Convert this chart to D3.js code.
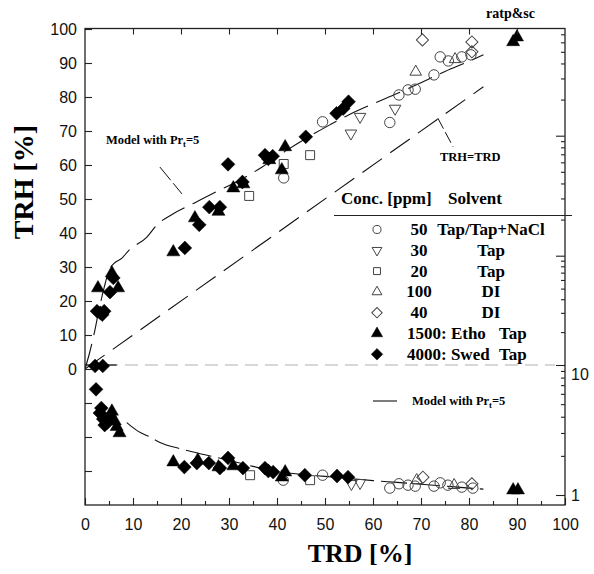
<!DOCTYPE html>
<html><head><meta charset="utf-8">
<script src="https://cdn.jsdelivr.net/npm/d3@7"></script>
<style>
body{margin:0;background:#fff;}
svg{display:block;}
</style></head><body>
<svg id="chart" width="594" height="574"></svg>
<script>
// ---------------- DATA ----------------
// Upper panel: [TRD %, TRH %]; lower panel: [TRD %, value on right log axis]
const circ50Up   = [[41.4,56.2],[49.5,72.7],[63.5,72.5],[65.4,80.6],[67.3,82.1],[68.8,82.3],[72.7,86.5],[74,91.8],[75.7,90.6],[78.5,91.8],[80.4,92.4]];
const circ50Low  = [[41.3,1.3],[49.5,1.42],[63.5,1.13],[65.4,1.22],[67.3,1.19],[68.8,1.17],[72.7,1.17],[74,1.24],[75.6,1.19],[78.5,1.15],[80.8,1.13]];
const dtri30Up   = [[55.4,69.3],[57.3,74.2],[64.6,76.6]];
const dtri30Low  = [[55.5,1.22],[57.3,1.24]];
const sq20Up     = [[34.2,50.9],[41.4,60.3],[46.9,62.9]];
const sq20Low    = [[34.4,1.42],[46.9,1.3]];
const tri100Up   = [[68.9,87.4],[77.1,91.1]];
const tri100Low  = [[69.1,1.3],[76.9,1.19]];
const dia40Up    = [[70.3,96.8],[80.6,96.2],[80.6,93.3]];
const dia40Low   = [[70.4,1.37],[80.6,1.22]];
const tri1500Up  = [[2.7,23.8],[6.9,23.8],[5.6,28.2],[18.4,34.4],[22.9,44.4],[27.8,46.3],[30.9,53.2],[33,54.4],[38.4,61.5],[41.7,65.3],[41,58.5],[89.2,96.2],[90,97.6]];
const tri1500Low = [[5.6,4.4],[6.2,3.7],[6.6,3.35],[7.2,3.0],[18.4,1.79],[23.5,1.85],[27.8,1.64],[30.9,1.67],[41.7,1.5],[41,1.37],[89.2,1.09],[90.2,1.09]];
const dia4000Up  = [[2.1,0.9],[3.7,0.9],[2.5,17],[3.2,16.5],[4,17],[3.6,16],[5.2,22.6],[5.9,26.8],[20.8,35.6],[23.8,42.4],[25.9,47.6],[28.1,47.6],[29.8,60.2],[32.8,55],[37.5,62.9],[39.1,62.6],[38.2,61.8],[46,68.3],[52.4,75.2],[53.8,76.6],[54.9,78.6]];
const dia4000Low = [[2.3,6.5],[3.4,4.66],[3.1,4.27],[3.8,3.84],[4.1,3.45],[5.1,3.98],[4.6,3.6],[20.7,1.64],[23.3,1.76],[25.8,1.76],[28.1,1.61],[29.8,1.93],[32.9,1.61],[37.5,1.61],[38.2,1.53],[39.2,1.5],[45.8,1.42],[52.5,1.4],[54.8,1.37]];

const upperModel    = [[0,0],[1,5],[2,11],[3,18],[4,24],[5,29],[6,31],[7.7,32.6],[9,34.7],[12.9,38.8],[15,42.4],[18.3,45.6],[23,49],[27.7,52.4],[32.3,55.6],[37,59.5],[42,64.3],[46,67.8],[51,71.8],[55,74.8],[60,78],[65,81],[70,84.2],[75,87.5],[80,90.5],[83,92.4]];
const identityLine  = [[0,0],[83,83]];
const lowerModelCap = [[0,10],[6.6,10]];
const lowerModel    = [[8.7,3.6],[11,3.1],[13.5,2.8],[15.5,2.55],[20,2.26],[25,2.04],[30,1.85],[35,1.66],[40,1.52],[45,1.44],[50,1.39],[55,1.34],[60,1.29],[65,1.25],[70,1.21],[75,1.17],[80,1.13],[83,1.11]];
const modelLeader   = [[15.6,59.4],[20.2,51.5]];
const trdLeader     = [[73.5,73.8],[76.7,65.3]];

const xTicks      = [0,10,20,30,40,50,60,70,80,90,100];
const xMinorTicks = [5,15,25,35,45,55,65,75,85,95];
const yTicks      = [-30,-20,-10,0,10,20,30,40,50,60,70,80,90,100];
const yRightLabels = [1,10];
const legendConc    = ["50","30","20","100","40","1500: Etho","4000: Swed"];
const legendSolvent = ["Tap/Tap+NaCl","Tap","Tap","DI","DI","Tap","Tap"];

// ---------------- SCALES ----------------
const svg = d3.select("#chart");
const L = 85, R = 565, T = 28.5, B = 505;
const x  = d3.scaleLinear().domain([0,100]).range([L,R]);
const yL = d3.scaleLinear().domain([-40,100]).range([B,29]);
const yR = d3.scaleLog().domain([1,10,100,1000,10000]).range([495,365,255.7,135.7,15.7]);

const serif = '"Liberation Serif","Times New Roman",serif';
const sans  = '"Liberation Sans",Arial,sans-serif';

svg.append("defs").append("clipPath").attr("id","plot")
  .append("rect").attr("x",L).attr("y",T).attr("width",R-L).attr("height",B-T);

// grey dashed separator at 10 on right axis
svg.append("line").attr("x1",L).attr("x2",R-10).attr("y1",yR(10)).attr("y2",yR(10))
  .attr("stroke","#b0b0b0").attr("stroke-width",1.2).attr("stroke-dasharray","13,7");

// ---------------- LINES ----------------
const g = svg.append("g").attr("clip-path","url(#plot)");
const lineU = d3.line().x(d=>x(d[0])).y(d=>yL(d[1])).curve(d3.curveMonotoneX);
const lineR = d3.line().x(d=>x(d[0])).y(d=>yR(d[1])).curve(d3.curveMonotoneX);
g.append("path").attr("d",lineU(upperModel)).attr("fill","none").attr("stroke","#111").attr("stroke-width",1.1).attr("stroke-dasharray","26,9");
g.append("path").attr("d",lineU(identityLine)).attr("fill","none").attr("stroke","#111").attr("stroke-width",1.1).attr("stroke-dasharray","24,10");
g.append("path").attr("d",lineR(lowerModelCap)).attr("fill","none").attr("stroke","#111").attr("stroke-width",1.2);
g.append("path").attr("d",lineR(lowerModel)).attr("fill","none").attr("stroke","#111").attr("stroke-width",1.1).attr("stroke-dasharray","26,7");
g.append("path").attr("d",d3.line().x(d=>x(d[0])).y(d=>yL(d[1]))(modelLeader)).attr("fill","none").attr("stroke","#111").attr("stroke-width",1).attr("stroke-dasharray","17,4");
g.append("path").attr("d",d3.line().x(d=>x(d[0])).y(d=>yL(d[1]))(trdLeader)).attr("fill","none").attr("stroke","#111").attr("stroke-width",1).attr("stroke-dasharray","12,4");

// ---------------- MARKERS ----------------
const styles = {
  circle: {type:d3.symbolCircle, size:85, rot:0, fill:"none"},
  dtri:   {type:d3.symbolTriangle, size:58, rot:180, fill:"none"},
  square: {type:d3.symbolSquare, size:80, rot:0, fill:"none"},
  tri:    {type:d3.symbolTriangle, size:58, rot:0, fill:"none"},
  odia:   {type:d3.symbolSquare, size:74, rot:45, fill:"none"},
  ftri:   {type:d3.symbolTriangle, size:74, rot:0, fill:"#000"},
  fdia:   {type:d3.symbolSquare, size:95, rot:45, fill:"#000"}
};
function drawPts(data, st, yScale){
  const s = styles[st];
  g.append("g").selectAll("path").data(data).join("path")
    .attr("d", d3.symbol().type(s.type).size(s.size)())
    .attr("transform", d=>`translate(${x(d[0])},${yScale(d[1])}) rotate(${s.rot})`)
    .attr("fill", s.fill)
    .attr("stroke", s.fill==="none" ? "#444" : "#000")
    .attr("stroke-width", s.fill==="none" ? 1 : 0.5);
}
drawPts(circ50Up,"circle",yL);  drawPts(circ50Low,"circle",yR);
drawPts(dtri30Up,"dtri",yL);    drawPts(dtri30Low,"dtri",yR);
drawPts(sq20Up,"square",yL);    drawPts(sq20Low,"square",yR);
drawPts(tri100Up,"tri",yL);     drawPts(tri100Low,"tri",yR);
drawPts(dia40Up,"odia",yL);     drawPts(dia40Low,"odia",yR);
drawPts(tri1500Up,"ftri",yL);   drawPts(tri1500Low,"ftri",yR);
drawPts(dia4000Up,"fdia",yL);   drawPts(dia4000Low,"fdia",yR);

// ---------------- AXES ----------------
function styleAxis(sel){
  sel.select(".domain").remove();
  sel.selectAll("line").attr("stroke","#222").attr("stroke-width",1.1);
  sel.selectAll("text").attr("font-family",sans).attr("font-size",16).attr("fill","#111");
}
svg.append("g").attr("transform",`translate(0,${B})`)
  .call(d3.axisBottom(x).tickValues(xTicks).tickSize(-7).tickPadding(14)).call(styleAxis);
svg.append("g").attr("transform",`translate(0,${B})`)
  .call(d3.axisBottom(x).tickValues(xMinorTicks).tickSize(-4).tickFormat("")).call(styleAxis);
svg.append("g").attr("transform",`translate(0,${T})`)
  .call(d3.axisTop(x).tickValues(xTicks.slice(1,-1)).tickSize(-6).tickFormat("")).call(styleAxis);
svg.append("g").attr("transform",`translate(${L},0)`)
  .call(d3.axisLeft(yL).tickValues(yTicks).tickSize(-7).tickPadding(8).tickFormat(d=> d>=0 ? d : "")).call(styleAxis);

const rMajor=[], rMinor=[];
[1,10,100,1000].forEach(dec=>{
  for(let k=1;k<=9;k++){
    const v=k*dec, py=yR(v);
    if(py>=T+2 && py<=B) (k===1 ? rMajor : rMinor).push(v);
  }
});
const rAx = svg.append("g").attr("transform",`translate(${R},0)`)
  .call(d3.axisRight(yR).tickValues(rMajor).tickSize(-9).tickPadding(6)
    .tickFormat(d=> yRightLabels.includes(d) ? d : "")).call(styleAxis);
rAx.selectAll("text").filter(d=>d===10).attr("dy","0.92em");
svg.append("g").attr("transform",`translate(${R},0)`)
  .call(d3.axisRight(yR).tickValues(rMinor).tickSize(-4).tickFormat("")).call(styleAxis);

// frame
svg.append("rect").attr("x",L).attr("y",T).attr("width",R-L).attr("height",B-T)
  .attr("fill","none").attr("stroke","#222").attr("stroke-width",1.3);

// ---------------- TEXT ----------------
svg.append("text").attr("transform","translate(33,182) rotate(-90)").attr("text-anchor","middle")
  .attr("font-family",serif).attr("font-weight","bold").attr("font-size",28).text("TRH [%]");
svg.append("text").attr("x",360).attr("y",562).attr("text-anchor","middle")
  .attr("font-family",serif).attr("font-weight","bold").attr("font-size",26).text("TRD [%]");

svg.append("text").attr("x",486).attr("y",18).attr("font-family",serif).attr("font-weight","bold")
  .attr("font-size",14).text("ratp&sc");

function modelLabel(px,py){
  const t = svg.append("text").attr("x",px).attr("y",py).attr("font-family",serif)
    .attr("font-weight","bold").attr("font-size",12.5);
  t.append("tspan").text("Model with Pr");
  t.append("tspan").attr("font-size",8.5).attr("dy",3).text("t");
  t.append("tspan").attr("dy",-3).text("=5");
}
modelLabel(106,144);
modelLabel(412,405);
svg.append("line").attr("x1",373).attr("x2",397).attr("y1",401).attr("y2",401).attr("stroke","#111").attr("stroke-width",1.1);

svg.append("text").attr("x",440).attr("y",161).attr("font-family",serif).attr("font-weight","bold")
  .attr("font-size",12.5).text("TRH=TRD");

// legend
const lg = svg.append("g").attr("font-family",serif).attr("font-weight","bold").attr("font-size",17).attr("fill","#000");
lg.append("text").attr("x",341).attr("y",204).text("Conc. [ppm]");
lg.append("text").attr("x",448).attr("y",204).text("Solvent");
svg.append("line").attr("x1",334).attr("x2",572).attr("y1",215.5).attr("y2",215.5).attr("stroke","#222").attr("stroke-width",1.2);
const legStyles=["circle","dtri","square","tri","odia","ftri","fdia"];
const legScale=[0.6,0.72,0.6,0.72,0.72,0.75,0.7];
legendConc.forEach((c,i)=>{
  const cy = 229.5 + i*20.8;
  const s = styles[legStyles[i]];
  svg.append("path").attr("d",d3.symbol().type(s.type).size(s.size*legScale[i])())
    .attr("transform",`translate(377,${cy}) rotate(${s.rot})`)
    .attr("fill",s.fill).attr("stroke",s.fill==="none"?"#444":"#000").attr("stroke-width",s.fill==="none"?1:0.5);
  if(i<5){
    lg.append("text").attr("x",419).attr("y",cy+5.5).attr("text-anchor","middle").text(c);
    lg.append("text").attr("x",491).attr("y",cy+5.5).attr("text-anchor","middle").text(legendSolvent[i]);
  } else {
    lg.append("text").attr("x",407).attr("y",cy+5.5).text(c);
    lg.append("text").attr("x",499).attr("y",cy+5.5).text(legendSolvent[i]);
  }
});
</script>
</body></html>
